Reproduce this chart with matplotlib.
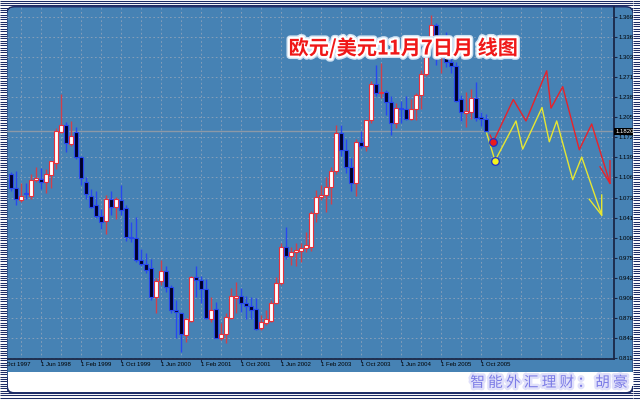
import numpy as np
import matplotlib
matplotlib.use('Agg')
import matplotlib.pyplot as plt
import matplotlib.patheffects as pe
import matplotlib.transforms as mtransforms
from matplotlib.patches import FancyBboxPatch, Rectangle

plt.rcParams['font.family'] = ['Liberation Sans', 'DejaVu Sans']

# monthly EUR/USD candles, Dec 1997 .. Nov 2005 (index 0 = Dec 1997)
opens = [1.112, 1.090, 1.069, 1.080, 1.076, 1.102, 1.104, 1.099, 1.110, 1.131,
         1.181, 1.192, 1.161, 1.181, 1.140, 1.100, 1.077, 1.061, 1.044, 1.035,
         1.072, 1.059, 1.069, 1.056, 1.009, 1.007, 0.972, 0.965, 0.959, 0.911,
         0.938, 0.954, 0.928, 0.890, 0.885, 0.849, 0.872, 0.944, 0.939, 0.924,
         0.875, 0.891, 0.845, 0.850, 0.877, 0.910, 0.913, 0.901, 0.896, 0.891,
         0.860, 0.869, 0.872, 0.901, 0.934, 0.993, 0.979, 0.984, 0.987, 0.992,
         0.993, 1.049, 1.074, 1.078, 1.091, 1.118, 1.179, 1.151, 1.123, 1.098,
         1.165, 1.158, 1.200, 1.260, 1.245, 1.247, 1.230, 1.195, 1.220, 1.218,
         1.202, 1.218, 1.242, 1.276, 1.328, 1.356, 1.304, 1.326, 1.296, 1.289,
         1.235, 1.212, 1.213, 1.236, 1.205, 1.202]
highs = [1.115, 1.118, 1.098, 1.098, 1.112, 1.123, 1.122, 1.120, 1.134, 1.187,
         1.243, 1.197, 1.199, 1.189, 1.141, 1.108, 1.087, 1.084, 1.055, 1.078,
         1.084, 1.074, 1.094, 1.062, 1.034, 1.042, 0.990, 0.983, 0.974, 0.942,
         0.972, 0.962, 0.931, 0.906, 0.887, 0.877, 0.945, 0.962, 0.946, 0.941,
         0.911, 0.903, 0.868, 0.885, 0.926, 0.936, 0.926, 0.913, 0.911, 0.910,
         0.882, 0.890, 0.906, 0.944, 1.000, 1.025, 0.993, 1.000, 1.000, 1.018,
         1.051, 1.086, 1.094, 1.108, 1.123, 1.193, 1.193, 1.169, 1.139, 1.170,
         1.183, 1.200, 1.265, 1.290, 1.293, 1.250, 1.239, 1.229, 1.232, 1.240,
         1.235, 1.244, 1.282, 1.331, 1.372, 1.359, 1.329, 1.345, 1.313, 1.296,
         1.241, 1.246, 1.251, 1.263, 1.213, 1.210]
lows = [1.085, 1.062, 1.067, 1.071, 1.072, 1.100, 1.087, 1.082, 1.090, 1.121,
        1.180, 1.148, 1.158, 1.136, 1.094, 1.071, 1.057, 1.041, 1.022, 1.015,
        1.046, 1.038, 1.046, 1.003, 1.001, 0.968, 0.962, 0.950, 0.906, 0.885,
        0.931, 0.919, 0.885, 0.844, 0.821, 0.837, 0.871, 0.911, 0.901, 0.876,
        0.870, 0.844, 0.841, 0.836, 0.876, 0.885, 0.887, 0.875, 0.875, 0.857,
        0.857, 0.865, 0.870, 0.900, 0.931, 0.974, 0.964, 0.962, 0.969, 0.984,
        0.986, 1.034, 1.069, 1.050, 1.063, 1.112, 1.141, 1.114, 1.085, 1.076,
        1.155, 1.150, 1.196, 1.239, 1.237, 1.209, 1.176, 1.187, 1.196, 1.200,
        1.200, 1.200, 1.218, 1.272, 1.319, 1.291, 1.278, 1.287, 1.277, 1.230,
        1.199, 1.189, 1.202, 1.199, 1.191, 1.182]
closes = [1.089, 1.071, 1.077, 1.079, 1.103, 1.105, 1.100, 1.112, 1.133, 1.182,
          1.192, 1.163, 1.174, 1.140, 1.105, 1.079, 1.059, 1.043, 1.034, 1.072,
          1.059, 1.071, 1.054, 1.009, 1.007, 0.972, 0.965, 0.956, 0.911, 0.938,
          0.954, 0.928, 0.890, 0.887, 0.850, 0.875, 0.944, 0.939, 0.924, 0.877,
          0.890, 0.845, 0.850, 0.878, 0.913, 0.913, 0.901, 0.896, 0.890, 0.859,
          0.870, 0.875, 0.901, 0.934, 0.993, 0.979, 0.984, 0.988, 0.992, 0.997,
          1.049, 1.074, 1.078, 1.091, 1.118, 1.179, 1.151, 1.123, 1.098, 1.165,
          1.158, 1.200, 1.260, 1.245, 1.247, 1.230, 1.195, 1.220, 1.218, 1.202,
          1.218, 1.242, 1.276, 1.328, 1.356, 1.304, 1.326, 1.296, 1.289, 1.232,
          1.213, 1.215, 1.236, 1.204, 1.202, 1.182]

# forecast zigzags (x in months from Dec 1997)
red_x = [95.8, 96.46, 100.46, 103.0, 107.14, 108.0, 110.34, 113.66, 116.14, 119.8]
red_y = [1.176, 1.165, 1.234, 1.199, 1.281, 1.220, 1.255, 1.152, 1.194, 1.097]
red_head_x = [117.8, 119.8, 119.8]
red_head_y = [1.124, 1.097, 1.134]
yel_x = [95.14, 96.8, 101.0, 102.34, 106.2, 107.66, 109.14, 112.34, 114.14, 118.14]
yel_y = [1.179, 1.134, 1.199, 1.153, 1.221, 1.165, 1.199, 1.103, 1.140, 1.045]
yel_head_x = [115.66, 118.14, 118.14]
yel_head_y = [1.071, 1.045, 1.078]

date_labels = ['1 Oct 1997', '1 Jun 1998', '1 Feb 1999', '1 Oct 1999', '1 Jun 2000',
               '1 Feb 2001', '1 Oct 2001', '1 Jun 2002', '1 Feb 2003', '1 Oct 2003',
               '1 Jun 2004', '1 Feb 2005', '1 Oct 2005']
date_pos = [-2, 6, 14, 22, 30, 38, 46, 54, 62, 70, 78, 86, 94]
price_low, price_high, n_price = 0.8110, 1.3696, 18
bid = 1.1820

title = '欧元/美元11月7日月 线图'
credit = '智 能 外 汇 理 财 ： 胡 豪'

BLUE = '#4682b4'
NAVY = '#1c2c66'

fig = plt.figure(figsize=(6.4, 4), dpi=100)


def stripes(a):
    a.set_xlim(0, 640)
    a.set_ylim(400, 0)
    a.axis('off')
    a.add_patch(Rectangle((0, 0), 640, 400, color='white', zorder=0))
    a.hlines(np.arange(0.6, 400, 2.35), 0, 640, color=NAVY, lw=0.75, zorder=1)


# striped page with rounded frame
bg = fig.add_axes([0, 0, 1, 1], zorder=0)
stripes(bg)
bg.add_patch(FancyBboxPatch((7, 7), 626, 386, boxstyle='round,pad=0,rounding_size=7',
                            facecolor='white', edgecolor=NAVY, lw=1.4, zorder=2))
bg.add_patch(FancyBboxPatch((7.5, 7.5), 625, 375, boxstyle='round,pad=0,rounding_size=7',
                            facecolor=BLUE, edgecolor='none', zorder=3))
bg.add_patch(Rectangle((7.5, 371.5), 625, 14, facecolor='white', edgecolor='none', zorder=4))

# price chart
ax = fig.add_axes([7 / 640, 1 - 358.5 / 400, 607 / 640, 351.5 / 400], zorder=1)
ax.set_facecolor('none')
px = 0.0016348
ax.set_xlim(-0.8, 120.6)
ax.set_ylim(price_low - 0.2 * px, price_low + 351.3 * px)

yt = np.linspace(price_low, price_high, n_price)
for v in yt:
    ax.axhline(v, color='#8fa3bb', lw=0.6, ls=(0, (2, 3)), zorder=1)
for g in np.arange(-2, 121, 4):
    ax.axvline(g, color='#8fa3bb', lw=0.6, ls=(0, (2, 3)), zorder=1)
ax.axhline(bid, color='#8c99a8', lw=1.0, zorder=1.5)

o = np.array(opens)
c = np.array(closes)
h = np.array(highs)
l = np.array(lows)
idx = np.arange(len(o))
up = c >= o
dn = ~up
ax.vlines(idx[up], l[up], h[up], color='#d2404a', lw=1.0, zorder=2)
ax.vlines(idx[dn], l[dn], h[dn], color='#2848f0', lw=1.0, zorder=2)
body_b = np.minimum(o, c)
body_h = np.maximum(np.abs(c - o), 0.0018)
ax.bar(idx[up], body_h[up], 0.62, body_b[up], color='white', edgecolor='#e8303a',
       lw=0.8, zorder=3)
ax.bar(idx[dn], body_h[dn], 0.62, body_b[dn], color='#000028', edgecolor='#2848f0',
       lw=0.8, zorder=3)

ax.plot(red_x, red_y, color='#e8222a', lw=1.0, zorder=4)
ax.plot(red_head_x, red_head_y, color='#e8222a', lw=1.0, zorder=4)
ax.plot(yel_x, yel_y, color='#e6e632', lw=1.0, zorder=4)
ax.plot(yel_head_x, yel_head_y, color='#e6e632', lw=1.0, zorder=4)
ax.plot(red_x[1], red_y[1], 'o', ms=5.5, mfc='#ee1c1c', mec='#2030c8', mew=0.9, zorder=5)
ax.plot(yel_x[1], yel_y[1], 'o', ms=5.5, mfc='#f4f41c', mec='#2030c8', mew=0.9, zorder=5)

for s in ['left', 'top']:
    ax.spines[s].set_visible(False)
for s in ['right', 'bottom']:
    ax.spines[s].set_color('#1a2848')
    ax.spines[s].set_linewidth(1.3)

ax.yaxis.tick_right()
ax.set_yticks(yt)
ax.set_yticklabels(['%.4f' % v for v in yt])
ax.tick_params(axis='y', length=2, width=0.8, color='#1a2848', pad=1.2,
               labelsize=4.3, labelcolor='black')
ax.set_xticks(date_pos[1:])
ax.set_xticklabels([])
ax.tick_params(axis='x', length=2, width=0.8, color='#1a2848')
trans = mtransforms.blended_transform_factory(ax.transData, ax.transAxes)
for pos, lab in zip(date_pos, date_labels):
    ax.text(pos, -0.009, lab, transform=trans, ha='left', va='top', fontsize=4.3,
            color='black', clip_on=False)
ax.text(1.002, bid, '%.4f' % bid, transform=ax.get_yaxis_transform(), ha='left',
        va='center', fontsize=4.3, color='white',
        bbox=dict(boxstyle='square,pad=0.15', fc='black', ec='none'))

fig.text(0.630, 0.880, title, family=['Noto Sans CJK SC', 'DejaVu Sans'], fontsize=14.5,
         fontweight='bold', color='#f01818', ha='center', va='center', zorder=10,
         path_effects=[pe.withStroke(linewidth=5, foreground='#cfe2f2'),
                       pe.withStroke(linewidth=3, foreground='white')])
fig.text(0.858, 0.043, credit, family=['Noto Sans CJK SC', 'DejaVu Sans'], fontsize=10.5,
         color='#7c7ce6', ha='center', va='center', zorder=10,
         path_effects=[pe.withStroke(linewidth=3.5, foreground='#e0e0fa')])

# striped margins on top of overflowing labels
for rect in ([0, 0, 7 / 640, 1], [633 / 640, 0, 7 / 640, 1]):
    side = fig.add_axes(rect, zorder=5)
    side.set_xlim(0, 7)
    side.set_ylim(400, 0)
    side.axis('off')
    side.add_patch(Rectangle((0, 0), 7, 400, color='white', zorder=0))
    side.hlines(np.arange(0.6, 400, 2.35), 0, 7, color=NAVY, lw=0.75, zorder=1)

fig.savefig('out.png', dpi=100)
